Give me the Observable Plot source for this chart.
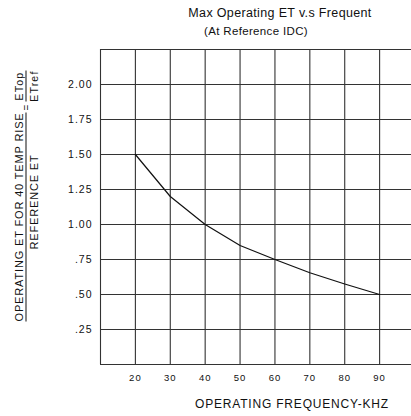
<!DOCTYPE html>
<html>
<head>
<meta charset="utf-8">
<script src="https://cdn.jsdelivr.net/npm/d3@7"></script>
<script src="https://cdn.jsdelivr.net/npm/@observablehq/plot@0.6"></script>
<style>
  html, body { margin: 0; padding: 0; background: #fff; }
  body { width: 411px; height: 416px; overflow: hidden; font-family: "Liberation Sans", Arial, sans-serif; color: #111; }
  #wrap { position: relative; width: 411px; height: 416px; }
  .abs { position: absolute; white-space: nowrap; transform: translate(-50%, -50%); }
  #title { left: 280px; top: 13px; font-size: 12.5px; letter-spacing: 0.35px; }
  #subtitle { left: 256px; top: 31px; font-size: 11.5px; letter-spacing: 0.35px; }
  #xlabel { left: 292px; top: 404px; font-size: 12px; letter-spacing: 0.8px; }
  #ylabel { left: 26px; top: 196px; transform: translate(-50%, -50%) rotate(-90deg); display: flex; align-items: center; font-size: 11px; letter-spacing: 0.85px; }
  .frac { display: flex; flex-direction: column; align-items: stretch; }
  .num { border-bottom: 1px solid #111; text-align: center; line-height: 12px; padding-bottom: 1px; }
  .den { text-align: center; line-height: 12px; padding-top: 1px; }
  .eq { margin: 0 2px; font-size: 10px; }
  .small { font-size: 10.5px; letter-spacing: 1.2px; }
  #chart { position: absolute; left: 0; top: 0; }
  #chart svg text { letter-spacing: 1px; }
</style>
</head>
<body>
<div id="wrap">
  <div id="chart"></div>
  <div id="title" class="abs">Max Operating ET v.s Frequent</div>
  <div id="subtitle" class="abs">(At Reference IDC)</div>
  <div id="xlabel" class="abs">OPERATING FREQUENCY-KHZ</div>
  <div id="ylabel" class="abs">
    <div class="frac">
      <div class="num">OPERATING ET FOR 40 TEMP RISE</div>
      <div class="den" style="padding-left:30px">REFERENCE ET</div>
    </div>
    <div class="eq">=</div>
    <div class="frac small">
      <div class="num">ETop</div>
      <div class="den">ETref</div>
    </div>
  </div>
</div>
<script>
// Data
const frequency = [20, 30, 40, 50, 60, 70, 80, 90];
const etRatio = [1.5, 1.2, 1.0, 0.85, 0.75, 0.655, 0.575, 0.5];

// Grid and ticks
const xGrid = [10, 20, 30, 40, 50, 60, 70, 80, 90, 100];
const yGrid = [0, 0.25, 0.5, 0.75, 1.0, 1.25, 1.5, 1.75, 2.0, 2.25];
const xTicks = [20, 30, 40, 50, 60, 70, 80, 90];
const yTicks = [0.25, 0.5, 0.75, 1.0, 1.25, 1.5, 1.75, 2.0];
const yTickLabels = [".25", ".50", ".75", "1.00", "1.25", "1.50", "1.75", "2.00"];

const curve = frequency.map((f, i) => ({f, v: etRatio[i]}));

const chart = Plot.plot({
  width: 411,
  height: 416,
  marginTop: 49,
  marginBottom: 52,
  marginLeft: 100,
  marginRight: 0,
  style: {background: "white", fontFamily: "'Liberation Sans', Arial, sans-serif", color: "#111", overflow: "hidden"},
  x: {domain: [10, 100], range: [100, 414]},
  y: {domain: [0, 2.25], range: [364, 49]},
  marks: [
    Plot.ruleX(xGrid, {stroke: "#333", strokeWidth: 1.1, strokeOpacity: 1}),
    Plot.ruleY(yGrid, {stroke: "#333", strokeWidth: 1.1, strokeOpacity: 1}),
    Plot.lineY(curve, {x: "f", y: "v", stroke: "#111", strokeWidth: 1.2}),
    Plot.axisX(xTicks, {tickSize: 0, tickPadding: 10, fontSize: 9.5, label: null}),
    Plot.axisY(yTicks, {tickSize: 0, tickPadding: 8, fontSize: 10.5, label: null,
      tickFormat: d => yTickLabels[yTicks.indexOf(d)]})
  ]
});
document.getElementById("chart").appendChild(chart);
</script>
</body>
</html>
